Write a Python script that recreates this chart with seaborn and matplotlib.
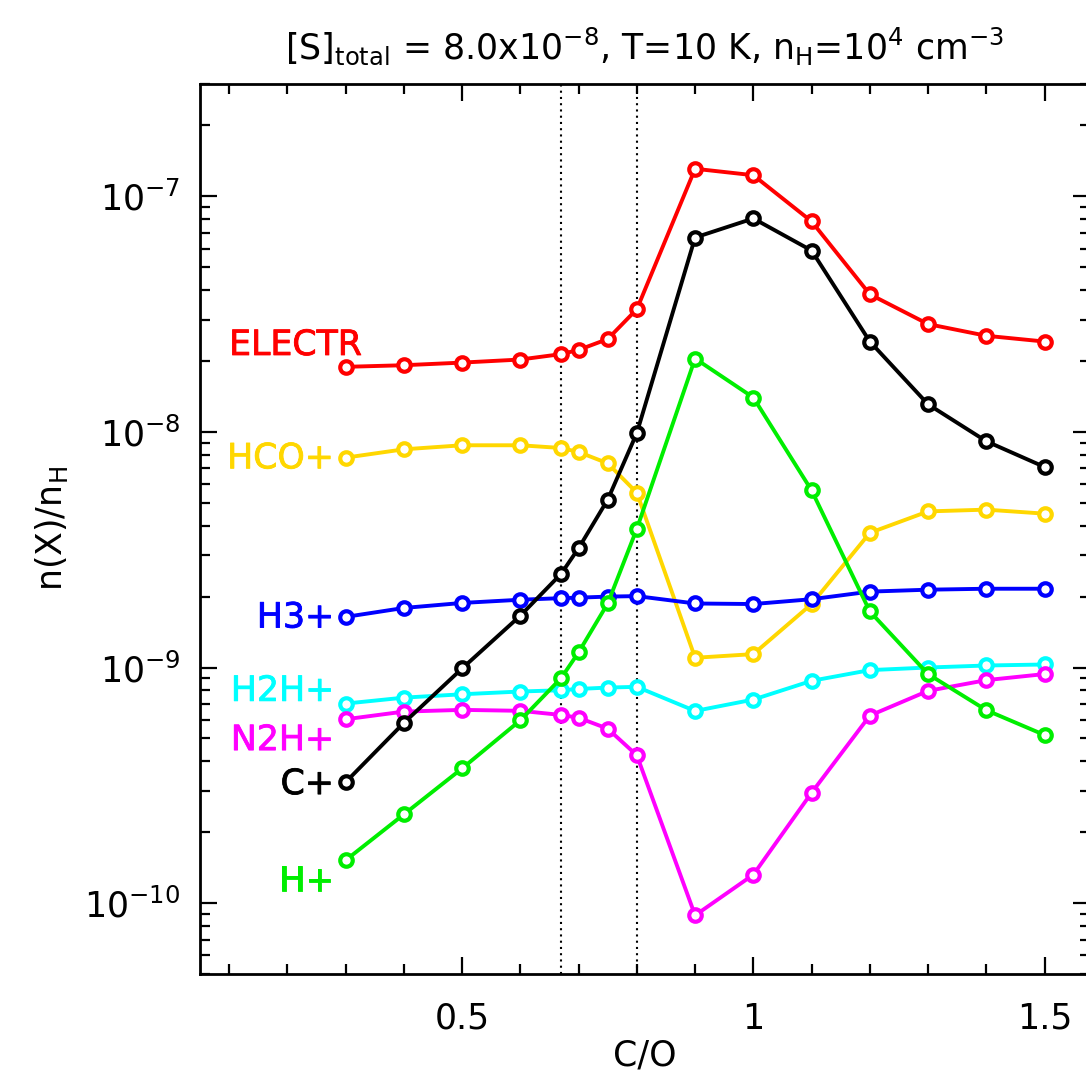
import numpy as np
import pandas as pd
import matplotlib
matplotlib.use("Agg")
import matplotlib.pyplot as plt
import matplotlib.ticker as mticker
import matplotlib.patheffects as pe
import seaborn as sns

# C/O ratios of the model grid
c_to_o = [0.3, 0.4, 0.5, 0.6, 0.67, 0.7, 0.75, 0.8, 0.9, 1.0, 1.1, 1.2, 1.3, 1.4, 1.5]

# abundances n(X)/n_H
electr = [1.89e-8, 1.92e-8, 1.97e-8, 2.03e-8, 2.14e-8, 2.23e-8, 2.48e-8, 3.32e-8,
          1.31e-7, 1.23e-7, 7.83e-8, 3.84e-8, 2.87e-8, 2.56e-8, 2.42e-8]
hcop = [7.78e-9, 8.44e-9, 8.78e-9, 8.78e-9, 8.55e-9, 8.22e-9, 7.36e-9, 5.52e-9,
        1.10e-9, 1.14e-9, 1.86e-9, 3.73e-9, 4.60e-9, 4.68e-9, 4.50e-9]
h3p = [1.64e-9, 1.79e-9, 1.88e-9, 1.94e-9, 1.97e-9, 1.98e-9, 2.00e-9, 2.01e-9,
       1.87e-9, 1.86e-9, 1.95e-9, 2.10e-9, 2.14e-9, 2.16e-9, 2.16e-9]
h2dp = [7.03e-10, 7.45e-10, 7.70e-10, 7.91e-10, 8.01e-10, 8.11e-10, 8.22e-10, 8.28e-10,
        6.54e-10, 7.31e-10, 8.78e-10, 9.75e-10, 1.00e-9, 1.02e-9, 1.03e-9]
n2hp = [6.03e-10, 6.50e-10, 6.61e-10, 6.55e-10, 6.29e-10, 6.12e-10, 5.50e-10, 4.24e-10,
        8.87e-11, 1.32e-10, 2.94e-10, 6.25e-10, 7.96e-10, 8.84e-10, 9.38e-10]
cp = [3.26e-10, 5.82e-10, 9.91e-10, 1.66e-9, 2.50e-9, 3.21e-9, 5.16e-9, 9.90e-9,
      6.69e-8, 8.06e-8, 5.89e-8, 2.42e-8, 1.31e-8, 9.13e-9, 7.10e-9]
hp = [1.52e-10, 2.38e-10, 3.73e-10, 5.97e-10, 9.02e-10, 1.16e-9, 1.87e-9, 3.88e-9,
      2.05e-8, 1.40e-8, 5.65e-9, 1.73e-9, 9.38e-10, 6.59e-10, 5.17e-10]

species = ["ELECTR", "HCO+", "H3+", "H2H+", "N2H+", "C+", "H+"]
values = [electr, hcop, h3p, h2dp, n2hp, cp, hp]
colors = ["#ff0000", "#ffd700", "#0000ff", "#00ffff", "#ff00ff", "#000000", "#00ee00"]

# where the species names sit (x, y, horizontal alignment)
label_pos = [(0.10, 2.34e-8, "left"), (0.28, 7.73e-9, "right"), (0.28, 1.63e-9, "right"),
             (0.28, 7.96e-10, "right"), (0.28, 4.92e-10, "right"), (0.28, 3.20e-10, "right"),
             (0.28, 1.24e-10, "right")]

# vertical reference lines
ref_lines = [0.67, 0.8]

df = pd.DataFrame({
    "C/O": np.tile(c_to_o, len(species)),
    "abundance": np.concatenate(values),
    "species": np.repeat(species, len(c_to_o)),
})

sns.set_style("ticks")
plt.rcParams["font.family"] = ["DejaVu Sans"]
plt.rcParams["mathtext.fontset"] = "dejavusans"
plt.rcParams["text.color"] = "black"
plt.rcParams["axes.labelcolor"] = "black"

fig = plt.figure(figsize=(10.86, 10.77), dpi=100)
ax = fig.add_axes([200 / 1086, 103 / 1077, 890 / 1086, 890 / 1077])

for name, col in zip(species, colors):
    sub = df[df["species"] == name]
    sns.lineplot(data=sub, x="C/O", y="abundance", ax=ax, color=col,
                 linewidth=2.8, marker="o", markersize=9,
                 markerfacecolor="white", markeredgecolor=col,
                 markeredgewidth=3, errorbar=None, legend=False)

for xv in ref_lines:
    ax.axvline(xv, color="black", linestyle=(0, (1, 2)), linewidth=1.5, zorder=0)

for name, col, (lx, ly, ha) in zip(species, colors, label_pos):
    ax.text(lx, ly, name, color=col, fontsize=25, ha=ha, va="center",
            path_effects=[pe.withStroke(linewidth=0.6, foreground=col)])

ax.set_yscale("log")
ax.set_xlim(0.05, 1.578)
ax.set_ylim(5e-11, 3e-7)

ax.xaxis.set_major_locator(mticker.FixedLocator([0.5, 1.0, 1.5]))
ax.xaxis.set_major_formatter(mticker.FixedFormatter(["0.5", "1", "1.5"]))
ax.xaxis.set_minor_locator(mticker.MultipleLocator(0.1))
ax.yaxis.set_major_locator(mticker.LogLocator(base=10, numticks=20))
ax.yaxis.set_minor_locator(mticker.LogLocator(base=10, subs=np.arange(2, 10), numticks=20))
ax.yaxis.set_minor_formatter(mticker.NullFormatter())

ax.tick_params(which="both", direction="in", top=True, right=True, width=1.6, colors="black")
ax.tick_params(which="major", length=12)
ax.tick_params(which="minor", length=7)
ax.tick_params(axis="x", which="major", pad=20, labelsize=25)
ax.tick_params(axis="y", which="major", pad=14, labelsize=25)
for sp in ax.spines.values():
    sp.set_linewidth(2)
    sp.set_color("black")

ax.set_xlabel("C/O", fontsize=25, labelpad=2)
ax.set_ylabel(r"n(X)/n$_\mathrm{H}$", fontsize=25, labelpad=10)
ax.set_title(r"[S]$_\mathrm{total}$ = 8.0x10$^{-8}$, T=10 K, n$_\mathrm{H}$=10$^4$ cm$^{-3}$",
             fontsize=25, pad=18)

fig.savefig("out.png", dpi=100)
